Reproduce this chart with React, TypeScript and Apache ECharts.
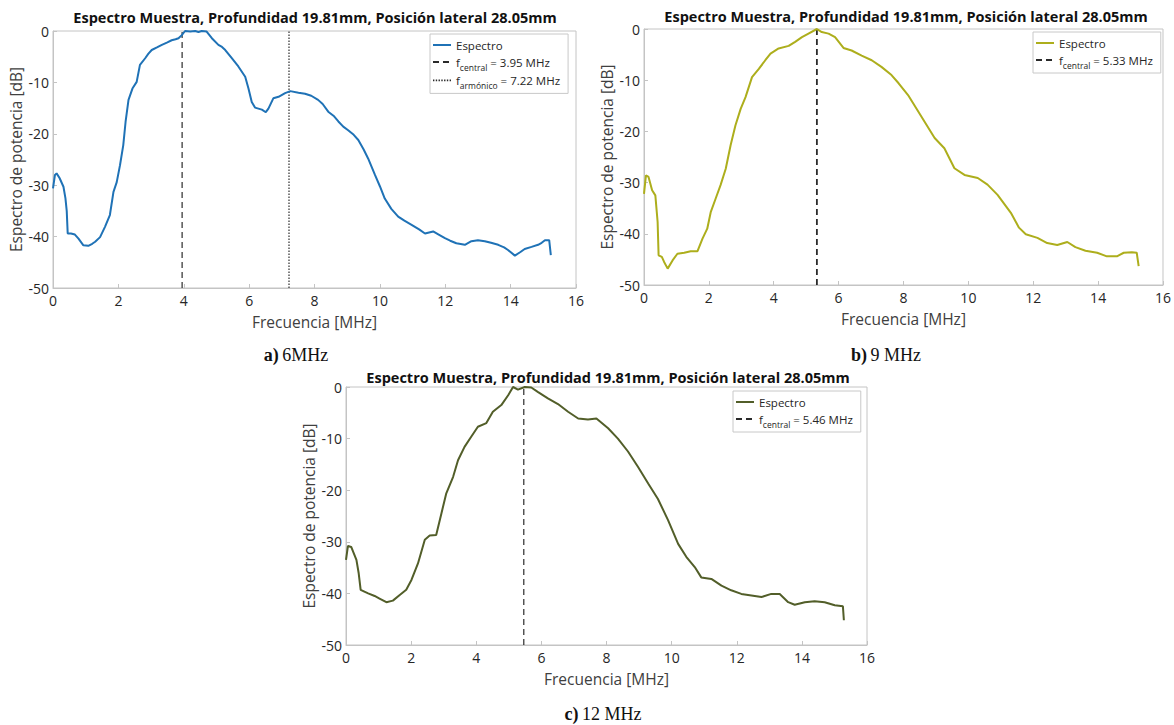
import React, { useEffect, useRef } from "react";
import * as echarts from "echarts";

// ---------- DATA ----------
const TITLE = "Espectro Muestra, Profundidad 19.81mm, Posición lateral 28.05mm";
const X_NAME = "Frecuencia [MHz]";
const Y_NAME = "Espectro de potencia [dB]";

// Panel a) 6 MHz
const freqA = [0, 0.06, 0.11, 0.2, 0.32, 0.38, 0.42, 0.45, 0.55, 0.67, 0.78, 0.93, 1.08, 1.2, 1.29, 1.44, 1.59, 1.74, 1.85, 1.95, 2.05, 2.15, 2.22, 2.31, 2.43, 2.56, 2.66, 2.82, 2.92, 3.02, 3.18, 3.33, 3.5, 3.63, 3.75, 3.84, 3.94, 4.04, 4.2, 4.35, 4.45, 4.55, 4.7, 4.86, 5.06, 5.17, 5.27, 5.47, 5.67, 5.88, 5.98, 6.08, 6.18, 6.39, 6.51, 6.59, 6.74, 6.9, 7.1, 7.26, 7.51, 7.71, 7.9, 8.11, 8.25, 8.42, 8.6, 8.73, 8.88, 9.03, 9.2, 9.34, 9.5, 9.64, 9.85, 10.0, 10.15, 10.35, 10.56, 10.75, 10.97, 11.2, 11.38, 11.63, 11.8, 11.99, 12.15, 12.34, 12.6, 12.8, 13.0, 13.21, 13.4, 13.62, 13.8, 13.92, 14.13, 14.3, 14.43, 14.64, 14.84, 14.95, 15.05, 15.18, 15.23];
const dbA = [-30.6, -28.0, -27.7, -28.6, -30.3, -32.5, -35, -39.4, -39.4, -39.6, -40.4, -41.7, -41.8, -41.4, -41, -40.1, -38.1, -35.8, -31.3, -29.4, -26.1, -22.2, -17.7, -13.4, -11.2, -9.9, -6.6, -5.3, -4.4, -3.7, -3.2, -2.7, -2.2, -1.8, -1.6, -1.4, -0.8, 0, -0.1, 0, -0.2, 0, -0.1, -1.4, -2.7, -3.1, -3.7, -5.3, -6.9, -8.9, -11.2, -13.8, -14.9, -15.3, -15.8, -15.1, -13.1, -12.8, -12.1, -11.7, -12, -12.2, -12.6, -13.4, -14.2, -15.7, -16.6, -17.6, -18.6, -19.3, -20.2, -21.2, -23, -24.8, -28, -30.2, -32.6, -34.6, -36.1, -36.9, -37.7, -38.6, -39.4, -39, -39.6, -40.3, -40.8, -41.3, -41.6, -40.9, -40.7, -40.9, -41.2, -41.6, -42.1, -42.6, -43.7, -43, -42.4, -42, -41.6, -41.2, -40.7, -40.7, -43.6];
const fCentralA = 3.95;
const fArmonicoA = 7.22;

// Panel b) 9 MHz
const freqB = [0, 0.06, 0.14, 0.25, 0.35, 0.42, 0.45, 0.55, 0.62, 0.73, 0.88, 1.03, 1.24, 1.44, 1.65, 1.8, 1.95, 2.06, 2.21, 2.36, 2.52, 2.67, 2.82, 2.98, 3.13, 3.33, 3.54, 3.74, 3.9, 4.15, 4.46, 4.66, 4.87, 5.07, 5.33, 5.48, 5.69, 5.89, 6.15, 6.4, 6.71, 7.02, 7.32, 7.63, 7.85, 8.14, 8.55, 8.96, 9.26, 9.57, 9.88, 10.29, 10.59, 10.9, 11.31, 11.56, 11.77, 12.13, 12.43, 12.74, 13.05, 13.3, 13.61, 13.97, 14.27, 14.58, 14.79, 15.04, 15.19, 15.25];
const dbB = [-32.2, -28.6, -28.9, -31.5, -32.5, -37.7, -44.2, -44.5, -45.5, -46.8, -45.2, -43.9, -43.7, -43.4, -43.4, -41, -39, -35.7, -33.1, -30.5, -27.3, -22.7, -18.8, -15.6, -13.3, -9.4, -7.8, -6.1, -4.8, -3.8, -3.3, -2.5, -1.6, -0.9, 0, -0.6, -0.9, -1.6, -3.7, -4.2, -5.2, -6.1, -7.4, -9.0, -10.6, -12.9, -17.1, -21.3, -23.3, -27.2, -28.5, -29.1, -30.4, -32.4, -35.9, -38.8, -40.1, -40.8, -41.8, -42.2, -41.6, -42.6, -43.3, -43.7, -44.4, -44.4, -43.7, -43.6, -43.7, -46.3];
const fCentralB = 5.33;

// Panel c) 12 MHz
const freqC = [0, 0.06, 0.16, 0.32, 0.39, 0.45, 0.68, 0.88, 1.03, 1.24, 1.44, 1.65, 1.85, 2.01, 2.21, 2.42, 2.57, 2.77, 2.93, 3.08, 3.29, 3.44, 3.64, 3.85, 4.05, 4.31, 4.51, 4.77, 4.98, 5.13, 5.28, 5.49, 5.69, 5.9, 6.2, 6.51, 6.82, 7.13, 7.43, 7.69, 8.05, 8.35, 8.66, 8.97, 9.28, 9.58, 9.89, 10.2, 10.45, 10.71, 10.91, 11.22, 11.53, 11.83, 12.14, 12.45, 12.76, 13.06, 13.32, 13.58, 13.78, 14.09, 14.39, 14.7, 15.01, 15.26, 15.29];
const dbC = [-33.5, -30.8, -31, -33.5, -36.1, -39.3, -40, -40.5, -41, -41.7, -41.4, -40.3, -39.3, -37.4, -34.2, -29.6, -28.8, -28.7, -24.5, -20.6, -17.4, -14.2, -11.6, -9.6, -7.7, -7.0, -4.8, -3.5, -1.6, 0, -0.5, 0, -0.1, -1, -2.2, -3.3, -4.8, -6.1, -6.3, -6.1, -8.0, -10, -12.5, -15.5, -18.7, -21.7, -25.8, -30.4, -32.9, -34.9, -36.9, -37.2, -38.5, -39.4, -40.1, -40.4, -40.7, -40.1, -40.1, -41.7, -42.2, -41.7, -41.5, -41.7, -42.3, -42.5, -45.2];
const fCentralC = 5.46;

const captions = [
  { tag: "a)", label: "6MHz" },
  { tag: "b)", label: "9 MHz" },
  { tag: "c)", label: "12 MHz" },
];

// ---------- STYLE ----------
const FONT = "'Open Sans', 'Noto Sans', sans-serif";
const SERIF = "'Liberation Serif', 'DejaVu Serif', serif";
const AXIS_GRAY = "#c4c4c4";
const TEXT = "#262626";
const COLORS = ["#1f72b6", "#adae1c", "#525e29"];

const zip = (xs: number[], ys: number[]) => xs.map((x, i) => [x, ys[i]]);
const vline = (x: number) => [
  [x, -50],
  [x, 0],
];

const NAME_MAP: Record<string, string> = {
  "esp-a": "{m|Espectro}",
  "esp-b": "{m|Espectro}",
  "esp-c": "{m|Espectro}",
  "fc-a": `{n|f}{s|central}{n| = ${fCentralA.toFixed(2)} MHz}`,
  "fa-a": `{n|f}{s|armónico}{n| = ${fArmonicoA.toFixed(2)} MHz}`,
  "fc-b": `{n|f}{s|central}{n| = ${fCentralB.toFixed(2)} MHz}`,
  "fc-c": `{n|f}{s|central}{n| = ${fCentralC.toFixed(2)} MHz}`,
};

// legend icon shapes: a 2px line sample centred in an 18x16 box (tiny corner anchors fix the box)
const ANCHORS = " M0,0H0.01V0.01H0Z M18,16H18.01V16.01H18Z";
const ICON_SOLID = "path://M0,7.1H18V8.9H0Z" + ANCHORS;
const ICON_DASHED = "path://M0,7.1H6V8.9H0Z M10,7.1H16V8.9H10Z" + ANCHORS;
const ICON_DOTTED =
  "path://" +
  Array.from({ length: 7 }, (_, i) => `M${i * 3},7.1H${i * 3 + 1.5}V8.9H${i * 3}Z`).join(" ") +
  ANCHORS;

export default function App() {
  const ref = useRef<HTMLDivElement>(null);

  useEffect(() => {
    if (!ref.current) return;
    const chart = echarts.init(ref.current, undefined, { renderer: "svg" });

    const grids = [
      { left: 53, top: 31, width: 523, height: 257 },
      { left: 644, top: 29, width: 522, height: 256 },
      { left: 346, top: 387, width: 521, height: 258 },
    ];

    const xAxes = grids.map((_, i) => ({
      type: "value",
      gridIndex: i,
      min: 0,
      max: 16,
      interval: 2,
      name: X_NAME,
      nameLocation: "middle",
      nameGap: 26,
      nameTextStyle: { fontSize: 15.5, color: "#404040", fontFamily: FONT },
      axisLine: { show: true, onZero: false, lineStyle: { color: AXIS_GRAY } },
      axisTick: { show: true, inside: true, length: 4, lineStyle: { color: AXIS_GRAY } },
      axisLabel: { color: TEXT, fontSize: 14, margin: 5, fontFamily: FONT },
      splitLine: { show: false },
    }));

    const yAxes = grids.map((_, i) => ({
      type: "value",
      gridIndex: i,
      min: -50,
      max: 0,
      interval: 10,
      name: Y_NAME,
      nameLocation: "middle",
      nameGap: 29,
      nameTextStyle: { fontSize: 15.5, color: "#404040", fontFamily: FONT },
      axisLine: { show: true, onZero: false, lineStyle: { color: AXIS_GRAY } },
      axisTick: { show: true, inside: true, length: 4, lineStyle: { color: AXIS_GRAY } },
      axisLabel: { color: TEXT, fontSize: 14, margin: 4, fontFamily: FONT },
      splitLine: { show: false },
    }));

    const lineSeries = (name: string, data: number[][], idx: number, color: string, width: number, type: any) => ({
      type: "line",
      name,
      data,
      xAxisIndex: idx,
      yAxisIndex: idx,
      symbol: "none",
      showSymbol: false,
      silent: true,
      lineStyle: { color, width, type },
      itemStyle: { color },
      z: type === "solid" ? 3 : 2,
    });

    const series = [
      lineSeries("esp-a", zip(freqA, dbA), 0, COLORS[0], 2, "solid"),
      lineSeries("fc-a", vline(fCentralA), 0, "#2a2a2a", 1.2, [6, 4]),
      lineSeries("fa-a", vline(fArmonicoA), 0, "#2a2a2a", 1.2, [1.5, 1.5]),
      lineSeries("esp-b", zip(freqB, dbB), 1, COLORS[1], 2, "solid"),
      lineSeries("fc-b", vline(fCentralB), 1, "#2a2a2a", 1.8, [6, 4]),
      lineSeries("esp-c", zip(freqC, dbC), 2, COLORS[2], 2, "solid"),
      lineSeries("fc-c", vline(fCentralC), 2, "#2a2a2a", 1.2, [6, 4]),
    ];

    const rich = {
      m: { fontSize: 11.5, color: TEXT, fontFamily: FONT, lineHeight: 12 },
      n: { fontSize: 11.5, color: TEXT, fontFamily: FONT, lineHeight: 20 },
      s: { fontSize: 8.5, color: TEXT, fontFamily: FONT, lineHeight: 9, verticalAlign: "bottom" },
    };

    const iconFor = (n: string) =>
      n.startsWith("esp") ? ICON_SOLID : n.startsWith("fa") ? ICON_DOTTED : ICON_DASHED;

    const mkLegend = (left: number, top: number, names: string[]) => ({
      orient: "vertical",
      left,
      top,
      data: names.map((n) => ({ name: n, icon: iconFor(n) })),
      itemWidth: 18,
      itemHeight: 16,
      itemGap: 1,
      padding: [3, 8, 3, 3],
      borderColor: "#c8c8c8",
      borderWidth: 1,
      backgroundColor: "#ffffff",
      selectedMode: false,
      itemStyle: { borderWidth: 0 },
      formatter: (n: string) => NAME_MAP[n] || n,
      textStyle: { color: TEXT, fontSize: 11.5, fontFamily: FONT, rich },
    });

    const graphic: any[] = [];
    const titlePos = [
      [315, 17],
      [906, 16],
      [608, 377],
    ];
    titlePos.forEach(([x, y]) => {
      graphic.push({
        type: "text",
        x,
        y,
        silent: true,
        style: {
          text: TITLE,
          fontSize: 14.5,
          fontWeight: "bold",
          fontFamily: FONT,
          fill: "#111111",
          align: "center",
          verticalAlign: "middle",
        },
      });
    });
    const capPos = [
      [296, 355],
      [886, 355],
      [603, 714],
    ];
    capPos.forEach(([x, y], i) => {
      graphic.push({
        type: "text",
        x,
        y,
        silent: true,
        style: {
          text: `{b|${captions[i].tag}} {r|${captions[i].label}}`,
          align: "center",
          verticalAlign: "middle",
          rich: {
            b: { fontFamily: SERIF, fontSize: 18, fontWeight: "bold", fill: "#111" },
            r: { fontFamily: SERIF, fontSize: 18, fill: "#111" },
          },
        },
      });
    });

    chart.setOption({
      animation: false,
      backgroundColor: "#ffffff",
      grid: grids.map((g) => ({ ...g, show: true, borderColor: AXIS_GRAY, borderWidth: 1, backgroundColor: "transparent" })),
      xAxis: xAxes,
      yAxis: yAxes,
      legend: [
        mkLegend(430, 34, ["esp-a", "fc-a", "fa-a"]),
        mkLegend(1033, 32, ["esp-b", "fc-b"]),
        mkLegend(733, 391, ["esp-c", "fc-c"]),
      ],
      series,
      graphic,
    });

    return () => chart.dispose();
  }, []);

  return (
    <div
      ref={ref}
      style={{ position: "fixed", left: 0, top: 0, width: 1174, height: 725, background: "#fff" }}
    />
  );
}
